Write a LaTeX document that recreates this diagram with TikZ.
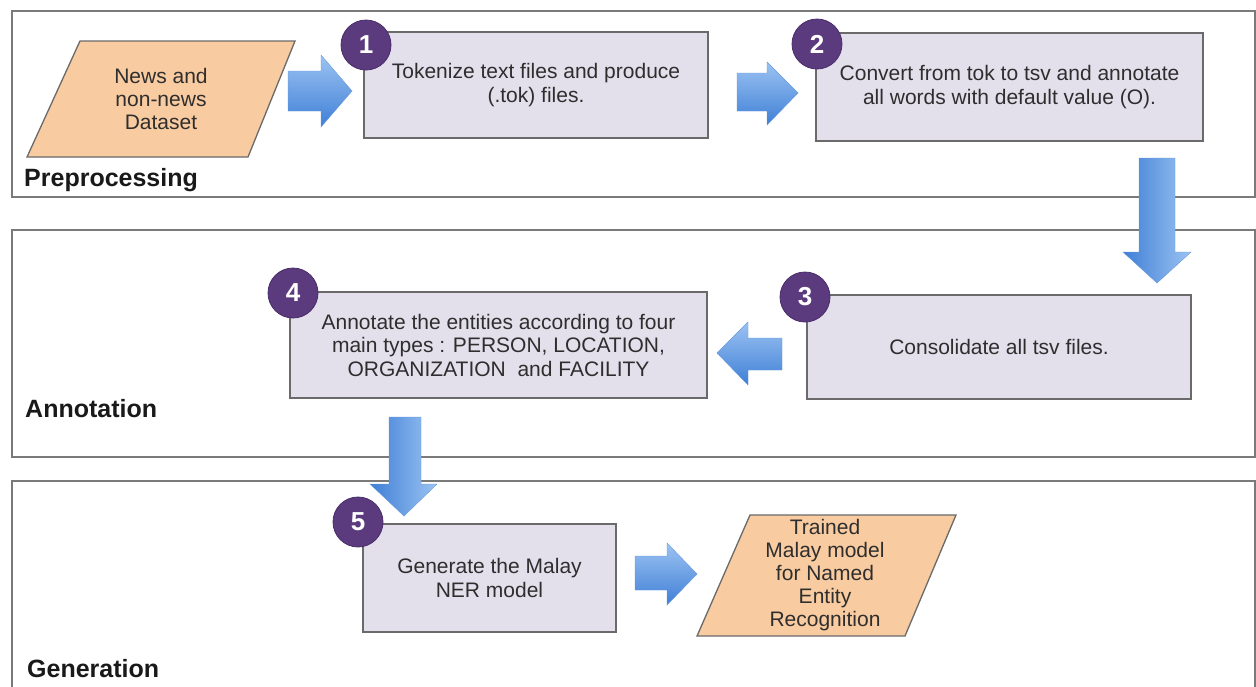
\documentclass[tikz,border=0pt]{standalone}
\usepackage{fontspec}
\setmainfont{Liberation Sans}
\usetikzlibrary{shapes.geometric}
\definecolor{panelc}{HTML}{7A7A7A}
\definecolor{boxfill}{HTML}{E3E0EC}
\definecolor{boxdraw}{HTML}{6A6A6A}
\definecolor{parafill}{HTML}{F9CBA0}
\definecolor{purp}{HTML}{5B3A7E}
\definecolor{purpd}{HTML}{4A2E6A}
\definecolor{arrlight}{HTML}{9CC3F2}
\definecolor{arrdark}{HTML}{3F7FD6}
\definecolor{txt}{HTML}{2E2E2E}
\tikzset{
  panel/.style={draw=panelc, line width=1.5pt},
  stepbox/.style={draw=boxdraw, fill=boxfill, line width=1.3pt, rectangle, inner sep=0pt, align=center,
    text=txt, font=\fontsize{21}{23.5}\selectfont},
  para/.style={draw=boxdraw, fill=parafill, line width=1.3pt},
  paratext/.style={align=center, text=txt, font=\fontsize{21}{23}\selectfont, inner sep=0pt},
  num/.style={circle, fill=purp, draw=purpd, line width=0.8pt, minimum size=50pt, inner sep=0pt,
    text=white, font=\fontsize{26}{26}\bfseries\selectfont},
  label/.style={anchor=base west, inner sep=0pt, text=black!90, font=\fontsize{25}{25}\bfseries\selectfont},
  harrow/.style={top color=arrlight, bottom color=arrdark, draw=arrdark!80, line width=0.4pt},
  varrow/.style={left color=arrdark, right color=arrlight, draw=arrdark!80, line width=0.4pt}
}
\begin{document}
\begin{tikzpicture}[x=1pt,y=-1pt]
\clip (0,0) rectangle (1256,686);
\useasboundingbox (0,0) rectangle (1256,686);
\fill[white] (0,0) rectangle (1256,686);

% panels
\draw[panel] (12,11) rectangle (1255,197);
\draw[panel] (12,230) rectangle (1255,457);
\draw[panel] (12,481) rectangle (1255,700);
\node[label] (lp) at (24,186) {Preprocessing};
\node[label] (la) at (25,417) {Annotation};
\node[label] (lg) at (27,677) {Generation};

% block arrows
\path[harrow] (288,71) -- (321,71) -- (321,55) -- (352,91) -- (321,127) -- (321,111) -- (288,111) -- cycle;
\path[harrow] (737,73) -- (767,73) -- (767,62) -- (798,93) -- (767,125) -- (767,111) -- (737,111) -- cycle;
\path[varrow] (1139,158) -- (1175,158) -- (1175,252) -- (1191,252) -- (1157,283) -- (1123,252) -- (1139,252) -- cycle;
\path[harrow] (782,338) -- (748,338) -- (748,322) -- (717,353) -- (748,385) -- (748,370) -- (782,370) -- cycle;
\path[varrow] (389,417) -- (421,417) -- (421,484) -- (437,484) -- (404,516) -- (370,484) -- (389,484) -- cycle;
\path[harrow] (635,556) -- (667,556) -- (667,543) -- (697,574) -- (667,605) -- (667,590) -- (635,590) -- cycle;

% input / output parallelograms
\draw[para] (80,41) -- (295,41) -- (248,157) -- (27,157) -- cycle;
\node[paratext] (in) at (161,99) {News and\\non-news\\Dataset};
\draw[para] (750,515) -- (956,515) -- (905,636) -- (697,636) -- cycle;
\node[paratext] (out) at (825,575) {Trained\\Malay model\\for Named\\Entity\\Recognition};

% step boxes
\node[stepbox, minimum width=344pt, minimum height=106pt] (b1) at (536,85) {Tokenize text files and produce\\(.tok) files.};
\node[stepbox, minimum width=387pt, minimum height=108pt] (b2) at (1009.5,87) {Convert from tok to tsv and annotate\\all words with default value (O).};
\node[stepbox, minimum width=384pt, minimum height=104pt] (b3) at (999,347) {Consolidate all tsv files.};
\node[stepbox, minimum width=417pt, minimum height=106pt] (b4) at (498.5,345) {Annotate the entities according to four\\main types : PERSON, LOCATION,\\ORGANIZATION~ and FACILITY};
\node[stepbox, minimum width=253pt, minimum height=108pt] (b5) at (489.5,578) {Generate the Malay\\NER model};

% numbers
\node[num] (n1) at (366,45) {1};
\node[num] (n2) at (817,44) {2};
\node[num] (n3) at (805,297) {3};
\node[num] (n4) at (293,293) {4};
\node[num] (n5) at (358,522) {5};
\end{tikzpicture}
\end{document}
